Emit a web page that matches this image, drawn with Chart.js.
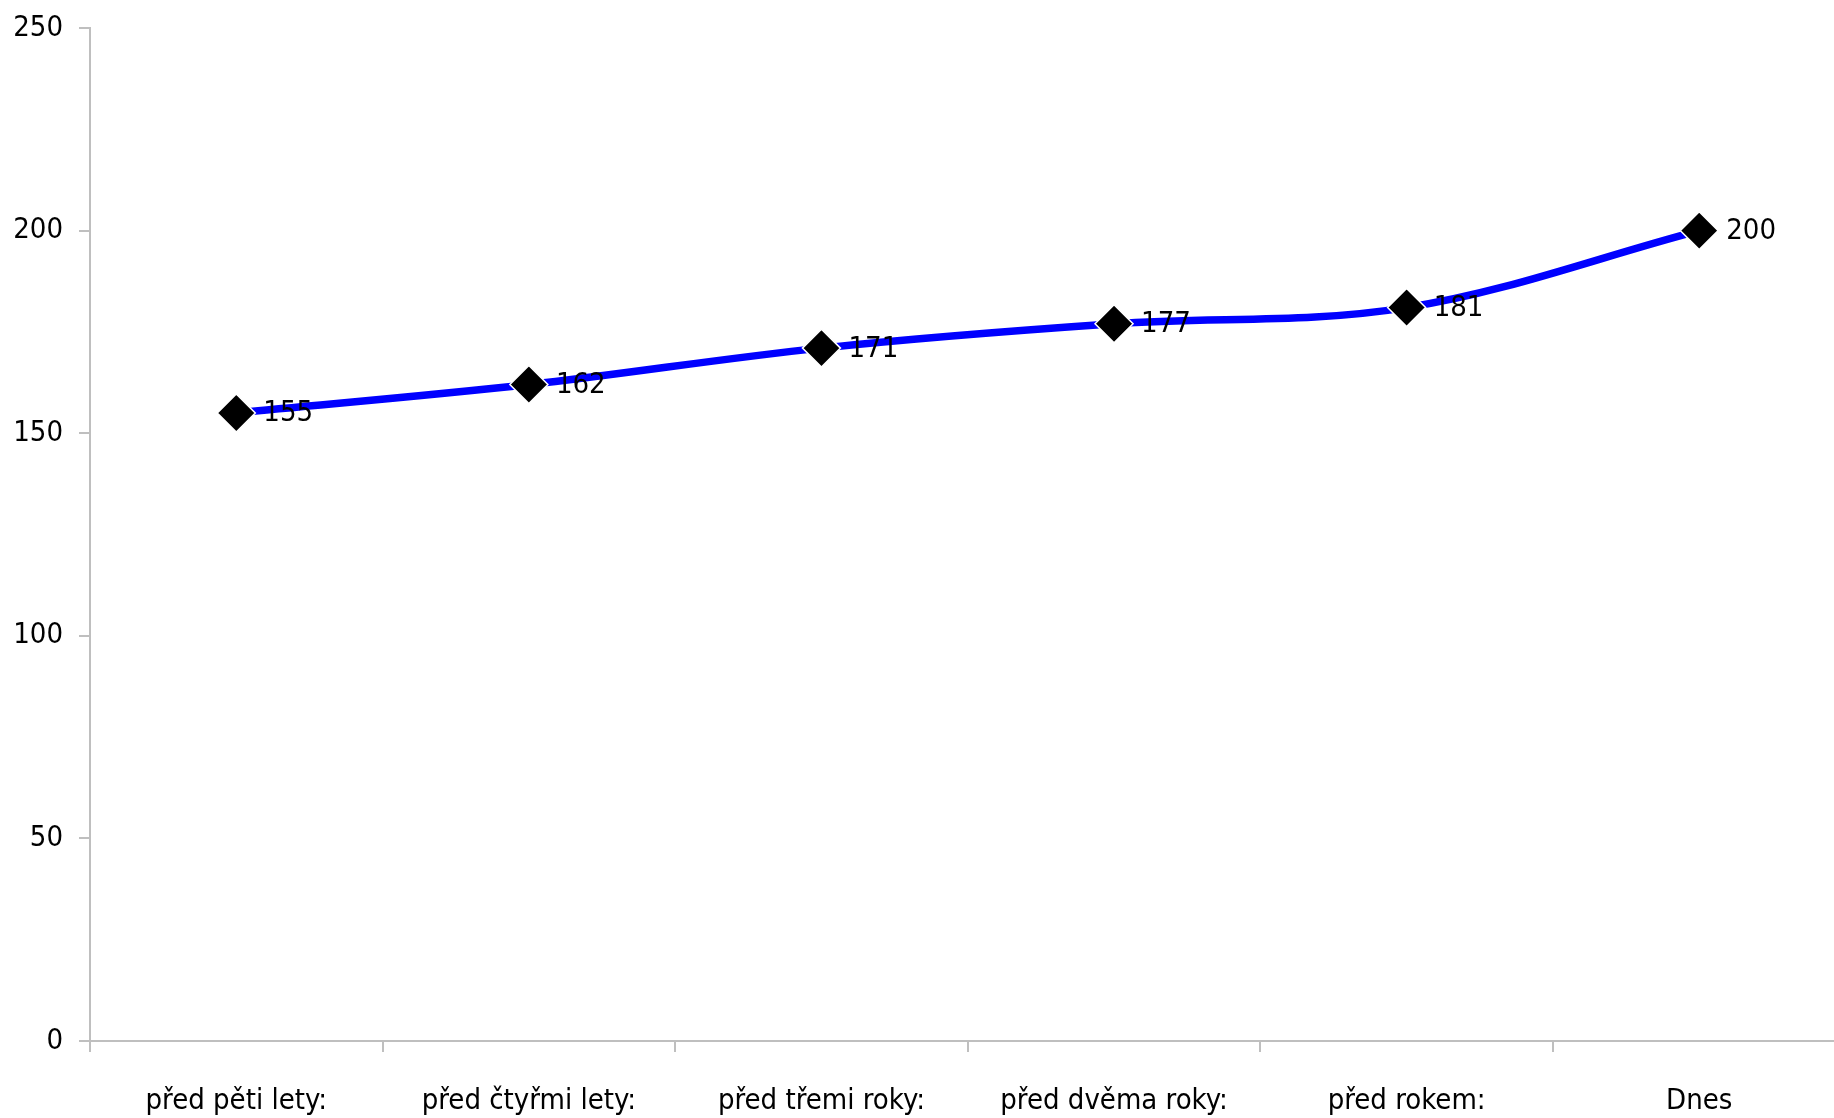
<!DOCTYPE html>
<html>
<head>
<meta charset="utf-8">
<script src="https://cdn.jsdelivr.net/npm/chart.js@4/dist/chart.umd.min.js"></script>
<style>
  html, body { margin: 0; padding: 0; background: #fff; overflow: hidden; }
  #wrap { width: 1866px; height: 1118px; }
</style>
</head>
<body>
<div id="wrap"><canvas id="lineChart" width="1866" height="1118"></canvas></div>
<script>
const categories = ['před pěti lety:', 'před čtyřmi lety:', 'před třemi roky:', 'před dvěma roky:', 'před rokem:', 'Dnes'];
const values = [155, 162, 171, 177, 181, 200];
const yTicks = [0, 50, 100, 150, 200, 250];

const fontFamily = '"DejaVu Sans Condensed", "DejaVu Sans", sans-serif';
const fontSize = 29;
const axisGrey = '#BFBFBF';

// draws the value next to each marker
const valueLabels = {
  id: 'valueLabels',
  afterDatasetsDraw(chart) {
    const ctx = chart.ctx;
    const meta = chart.getDatasetMeta(0);
    ctx.save();
    ctx.font = fontSize + 'px ' + fontFamily;
    ctx.fillStyle = '#000';
    ctx.textAlign = 'left';
    ctx.textBaseline = 'middle';
    meta.data.forEach((pt, i) => {
      ctx.fillText(String(values[i]), pt.x + 27, pt.y + 1);
    });
    ctx.restore();
  }
};

const ctx = document.getElementById('lineChart').getContext('2d');
const lineChart = new Chart(ctx, {
  type: 'line',
  data: {
    labels: categories,
    datasets: [{
      data: values,
      borderColor: '#0000FF',
      borderWidth: 7.5,
      tension: 0.35,
      pointStyle: 'rectRot',
      pointRadius: 19,
      pointBackgroundColor: '#000',
      pointBorderColor: '#fff',
      pointBorderWidth: 1.5,
      fill: false
    }]
  },
  options: {
    responsive: false,
    animation: false,
    layout: { padding: { top: 28, right: 2, left: 0, bottom: 0 } },
    plugins: {
      legend: { display: false },
      tooltip: { enabled: false }
    },
    scales: {
      x: {
        offset: true,
        grid: { offset: true, drawOnChartArea: false, drawTicks: true, tickLength: 11, color: axisGrey, lineWidth: 2 },
        border: { color: axisGrey, width: 2 },
        ticks: { color: '#000', font: { family: fontFamily, size: fontSize }, padding: 32, maxRotation: 0, autoSkip: false },
        afterFit(scale) {
          scale.height = 77;
          scale.paddingLeft = 0;
          scale.paddingRight = 0;
        }
      },
      y: {
        min: yTicks[0],
        max: yTicks[yTicks.length - 1],
        afterBuildTicks(scale) { scale.ticks = yTicks.map(v => ({ value: v })); },
        grid: { drawOnChartArea: false, drawTicks: true, tickLength: 11, color: axisGrey, lineWidth: 2 },
        border: { color: axisGrey, width: 2 },
        ticks: { color: '#000', font: { family: fontFamily, size: fontSize }, padding: 16 },
        afterFit(scale) {
          scale.width = 90;
          scale.paddingTop = 0;
          scale.paddingBottom = 0;
        }
      }
    }
  },
  plugins: [valueLabels]
});
</script>
</body>
</html>
